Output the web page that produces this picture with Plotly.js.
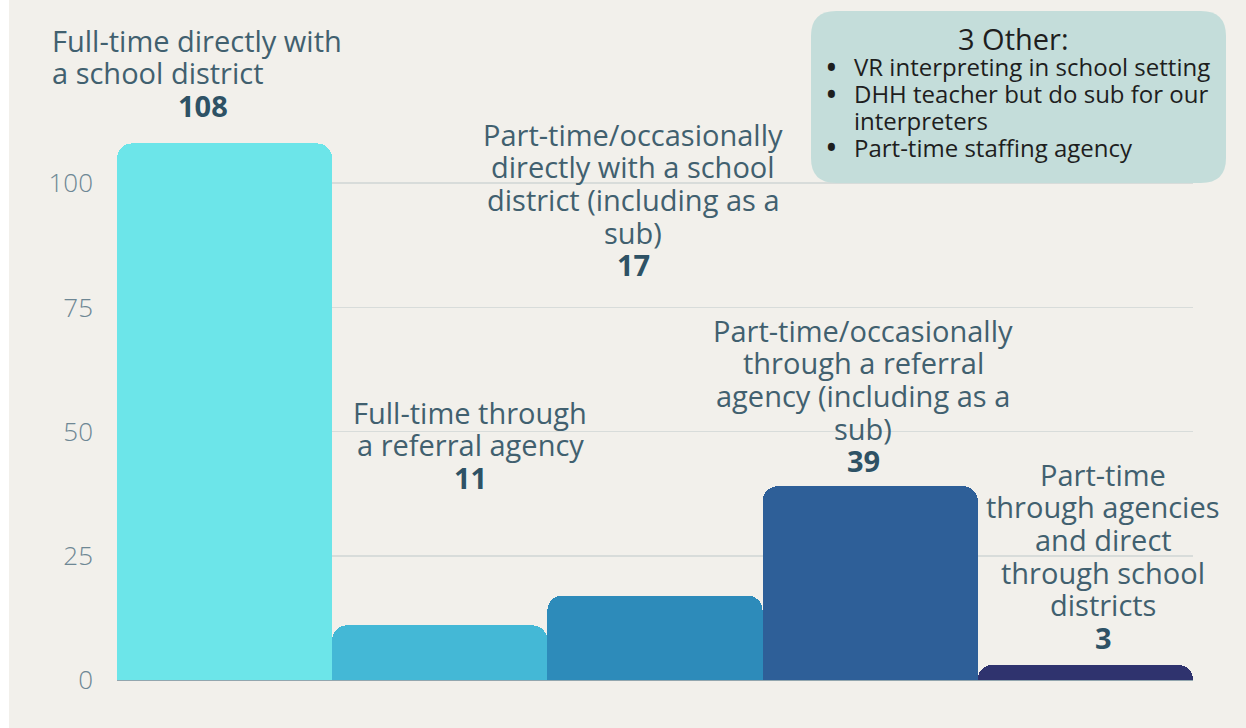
<!DOCTYPE html>
<html>
<head>
<meta charset="utf-8">
<script src="https://cdn.plot.ly/plotly-3.0.1.min.js"></script>
<style>
html,body{margin:0;padding:0;background:#F2F0EB;}
#chart{width:1246px;height:728px;}
</style>
</head>
<body>
<div id="chart"></div>
<script>
// ---- data ----
const categories = [
  "Full-time directly with<br>a school district",
  "Full-time through<br>a referral agency",
  "Part-time/occasionally<br>directly with a school<br>district (including as a<br>sub)",
  "Part-time/occasionally<br>through a referral<br>agency (including as a<br>sub)",
  "Part-time<br>through agencies<br>and direct<br>through school<br>districts"
];
const values = [108, 11, 17, 39, 3];
const tickValues = [0, 25, 50, 75, 100];
const otherTitle = "3 Other:";
const otherItems = [
  "VR interpreting in school setting",
  "DHH teacher but do sub for our<br>interpreters",
  "Part-time staffing agency"
];

// ---- styles / layout positions ----
const barColors = ["#6CE5E9", "#44B8D6", "#2D8BBA", "#2E5F98", "#2F336E"];
const W = 1246, H = 728;
const L = 117, R = 1193, T = 59, B = 680;
const px = x => (x - L) / (R - L);
const py = y => (B - y) / (B - T);
const labelPos = [
  {x: 50, align: 'left', y: 40, vx: 203},
  {x: 470, align: 'center', y: 412},
  {x: 633, align: 'center', y: 134},
  {x: 863, align: 'center', y: 330},
  {x: 1103, align: 'center', y: 474}
];
const lineH = 32.7;
const labelColor = "#41606F";
const valueColor = "#2E5265";
const fontFam = "Open Sans, sans-serif";

const annotations = [];
categories.forEach((cat, i) => {
  const p = labelPos[i];
  const lines = cat.split("<br>");
  lines.forEach((ln, j) => {
    annotations.push({
      xref: 'paper', yref: 'paper', x: px(p.x), y: py(p.y + j * lineH),
      xanchor: p.align === 'left' ? 'left' : 'center', yanchor: 'middle',
      text: ln, showarrow: false,
      font: {family: fontFam, size: 29, color: labelColor}
    });
  });
  annotations.push({
    xref: 'paper', yref: 'paper', x: px(p.vx !== undefined ? p.vx : p.x), y: py(p.y + lines.length * lineH),
    xanchor: 'center', yanchor: 'middle',
    text: '<b>' + values[i] + '</b>', showarrow: false,
    font: {family: fontFam, size: 29, color: valueColor, weight: 700}
  });
});

// "Other" box
annotations.push({
  xref: 'paper', yref: 'paper', x: px(1013), y: py(38),
  xanchor: 'center', yanchor: 'middle', text: otherTitle, showarrow: false,
  font: {family: fontFam, size: 29, color: "#1E1E1E"}
});
let row = 0;
const boxLineY0 = 67, boxLineH = 26.7;
otherItems.forEach(item => {
  const lines = item.split("<br>");
  annotations.push({
    xref: 'paper', yref: 'paper', x: px(831), y: py(boxLineY0 + row * boxLineH),
    xanchor: 'center', yanchor: 'middle', text: '•', showarrow: false,
    font: {family: fontFam, size: 34, color: "#1E1E1E"}
  });
  lines.forEach(ln => {
    annotations.push({
      xref: 'paper', yref: 'paper', x: px(852), y: py(boxLineY0 + row * boxLineH),
      xanchor: 'left', yanchor: 'middle', text: ln, showarrow: false,
      font: {family: fontFam, size: 24, color: "#1E1E1E"}
    });
    row++;
  });
});

// rounded rect path in paper coords
function roundRect(x0, y0, x1, y1, r) {
  const a = px(x0), b = px(x1), c = py(y0), d = py(y1);
  const rx = r / (R - L), ry = r / (B - T);
  return `M ${a + rx},${c} L ${b - rx},${c} Q ${b},${c} ${b},${c - ry} L ${b},${d + ry} Q ${b},${d} ${b - rx},${d} L ${a + rx},${d} Q ${a},${d} ${a},${d + ry} L ${a},${c - ry} Q ${a},${c} ${a + rx},${c} Z`;
}

const shapes = [
  {type: 'rect', xref: 'paper', yref: 'paper', x0: px(0), x1: px(9), y0: py(H), y1: py(0),
   fillcolor: '#FFFFFF', line: {width: 0}, layer: 'below'},
  {type: 'path', xref: 'paper', yref: 'paper', path: roundRect(811, 11, 1226, 183, 25),
   fillcolor: '#C4DDDA', line: {width: 0}, layer: 'above'}
];

const trace = {
  type: 'bar',
  x: categories.map((_, i) => i),
  y: values,
  marker: {color: barColors, line: {width: 0}, cornerradius: 15},
  hoverinfo: 'skip',
  cliponaxis: false
};

const layout = {
  width: W, height: H,
  margin: {l: L, r: W - R, t: T, b: H - B, pad: 0},
  paper_bgcolor: '#F2F0EB', plot_bgcolor: '#F2F0EB',
  bargap: 0,
  showlegend: false,
  xaxis: {range: [-0.5, 4.5], showticklabels: false, showgrid: false, zeroline: false,
          showline: false, ticks: '', fixedrange: true},
  yaxis: {range: [0, 125], tickvals: tickValues, ticktext: tickValues.map(String),
          showgrid: true, gridcolor: '#D8DCDA', gridwidth: 1.5,
          zeroline: true, zerolinecolor: '#93A6AE', zerolinewidth: 1.5,
          showline: false, ticks: '', ticklabelstandoff: 23,
          tickfont: {family: fontFam, size: 26, color: '#6E8794', weight: 300},
          fixedrange: true},
  shapes: shapes,
  annotations: annotations
};

Plotly.newPlot('chart', [trace], layout, {displayModeBar: false, staticPlot: true});
</script>
</body>
</html>
